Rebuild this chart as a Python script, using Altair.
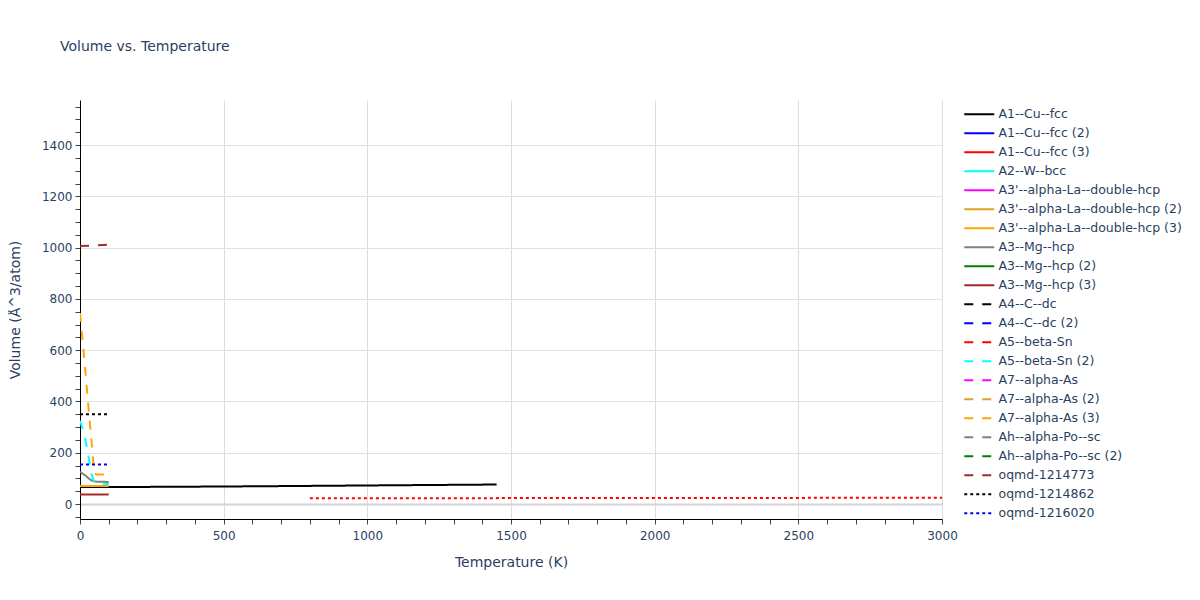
import altair as alt
import pandas as pd

# ---- data ----
names = [
    "A1--Cu--fcc", "A1--Cu--fcc (2)", "A1--Cu--fcc (3)", "A2--W--bcc",
    "A3'--alpha-La--double-hcp", "A3'--alpha-La--double-hcp (2)",
    "A3'--alpha-La--double-hcp (3)", "A3--Mg--hcp", "A3--Mg--hcp (2)",
    "A3--Mg--hcp (3)", "A4--C--dc", "A4--C--dc (2)", "A5--beta-Sn",
    "A5--beta-Sn (2)", "A7--alpha-As", "A7--alpha-As (2)", "A7--alpha-As (3)",
    "Ah--alpha-Po--sc", "Ah--alpha-Po--sc (2)", "oqmd-1214773",
    "oqmd-1214862", "oqmd-1216020", "oqmd-1216xxx",
]
colors = [
    "#000000", "#0000ff", "#ff0000", "#00ffff", "#ff00ff", "#daa520",
    "#ffa500", "#808080", "#008000", "#a52a2a",
    "#000000", "#0000ff", "#ff0000", "#00ffff", "#ff00ff", "#daa520",
    "#ffa500", "#808080", "#008000", "#a52a2a",
    "#000000", "#0000ff", "#ff0000",
]
dashes = [[1, 0]] * 10 + [[9, 9]] * 10 + [[3, 3]] * 3
legend_names = names[:22]

# visible series: temperature (K) and volume (Å^3/atom)
cu_T = [0, 300, 600, 900, 1200, 1450]
cu_V = [66, 67, 69, 71.5, 74, 76]

la3_T = [0, 100]
la3_V = [70, 70]

mg_T = [0, 10, 20, 30, 40, 50, 60, 100]
mg_V = [126, 118, 110, 100, 92, 88, 87, 86]

mg3_T = [0, 100]
mg3_V = [37, 37]

sn2_T = [0, 10, 20, 30, 40, 50, 60, 100]
sn2_V = [325, 290, 245, 182, 116, 85, 80, 78]

as3_T = [0, 10, 20, 30, 40, 50, 60, 100]
as3_V = [745, 625, 500, 370, 245, 118, 115, 115]

o773_T = [0, 100]
o773_V = [1006, 1012]

o862_T = [0, 100]
o862_V = [350, 350]

o020_T = [0, 100]
o020_V = [154, 154]

oxxx_T = [800, 1500, 2200, 3000]
oxxx_V = [22, 23, 23.5, 24.5]

series = [
    ("A1--Cu--fcc", cu_T, cu_V),
    ("A3'--alpha-La--double-hcp (3)", la3_T, la3_V),
    ("A3--Mg--hcp", mg_T, mg_V),
    ("A3--Mg--hcp (3)", mg3_T, mg3_V),
    ("A5--beta-Sn (2)", sn2_T, sn2_V),
    ("A7--alpha-As (3)", as3_T, as3_V),
    ("oqmd-1214773", o773_T, o773_V),
    ("oqmd-1214862", o862_T, o862_V),
    ("oqmd-1216020", o020_T, o020_V),
    ("oqmd-1216xxx", oxxx_T, oxxx_V),
]

rows = []
for name, ts, vs in series:
    for t, v in zip(ts, vs):
        rows.append({"series": name, "T": t, "V": v, "order": names.index(name)})
df = pd.DataFrame(rows)

FONT = "DejaVu Sans"
TXT = "#2a3f5f"

x_ticks = list(range(0, 3001, 100))
y_ticks = list(range(-50, 1551, 50))

legend = alt.Legend(
    title=None, values=legend_names, orient="none", legendX=893, legendY=8,
    symbolType="M-3,0H3", symbolSize=100, symbolStrokeWidth=2,
    labelFont=FONT, labelFontSize=12.5, labelColor=TXT, labelOffset=13,
    rowPadding=6, labelLimit=300,
)

chart = (
    alt.Chart(df)
    .mark_line(strokeWidth=2, clip=True)
    .encode(
        x=alt.X(
            "T:Q",
            scale=alt.Scale(domain=[0, 3000], nice=False, zero=False),
            axis=alt.Axis(
                title="Temperature (K)", values=x_ticks,
                labelExpr="datum.value % 500 === 0 ? datum.label : ''",
                labelOverlap=False, labelFlush=False,
                gridOpacity={"condition": {"test": "datum.value % 500 === 0", "value": 1}, "value": 0},
                format="d",
            ),
        ),
        y=alt.Y(
            "V:Q",
            scale=alt.Scale(domain=[-58.5, 1576], nice=False, zero=False),
            axis=alt.Axis(
                title="Volume (Å^3/atom)", values=y_ticks,
                labelExpr="datum.value % 200 === 0 ? datum.label : ''",
                labelOverlap=False,
                gridOpacity={"condition": {"test": "datum.value % 200 === 0", "value": 1}, "value": 0},
                gridColor={"condition": {"test": "datum.value === 0", "value": "#d4d4d4"}, "value": "#e2e2e2"},
                gridWidth={"condition": {"test": "datum.value === 0", "value": 2}, "value": 1},
                format="d",
            ),
        ),
        color=alt.Color("series:N", scale=alt.Scale(domain=names, range=colors), legend=legend),
        strokeDash=alt.StrokeDash("series:N", scale=alt.Scale(domain=names, range=dashes), legend=legend),
        detail="series:N",
        order="order:Q",
    )
    .properties(
        width=862, height=419,
        autosize=alt.AutoSizeParams(type="none"),
        padding={"left": 72, "top": 92, "right": 250, "bottom": 73},
        title=alt.TitleParams(
            "Volume vs. Temperature", anchor="start", frame="group", dx=-20, offset=39,
            baseline="middle", font=FONT, fontSize=14, fontWeight="normal", color=TXT,
        ),
    )
    .configure_view(stroke=None)
    .configure_axis(
        domainColor="#000000", domainWidth=1, tickColor="#444444", tickSize=5,
        labelFont=FONT, labelFontSize=12, labelColor=TXT,
        titleFont=FONT, titleFontSize=14, titleColor=TXT, titleFontWeight="normal",
    )
    .configure_axisX(labelPadding=6, titlePadding=14)
    .configure_axisY(labelPadding=3, titlePadding=19)
)

chart.save("out.html", embed_options={"renderer": "svg", "actions": False})
